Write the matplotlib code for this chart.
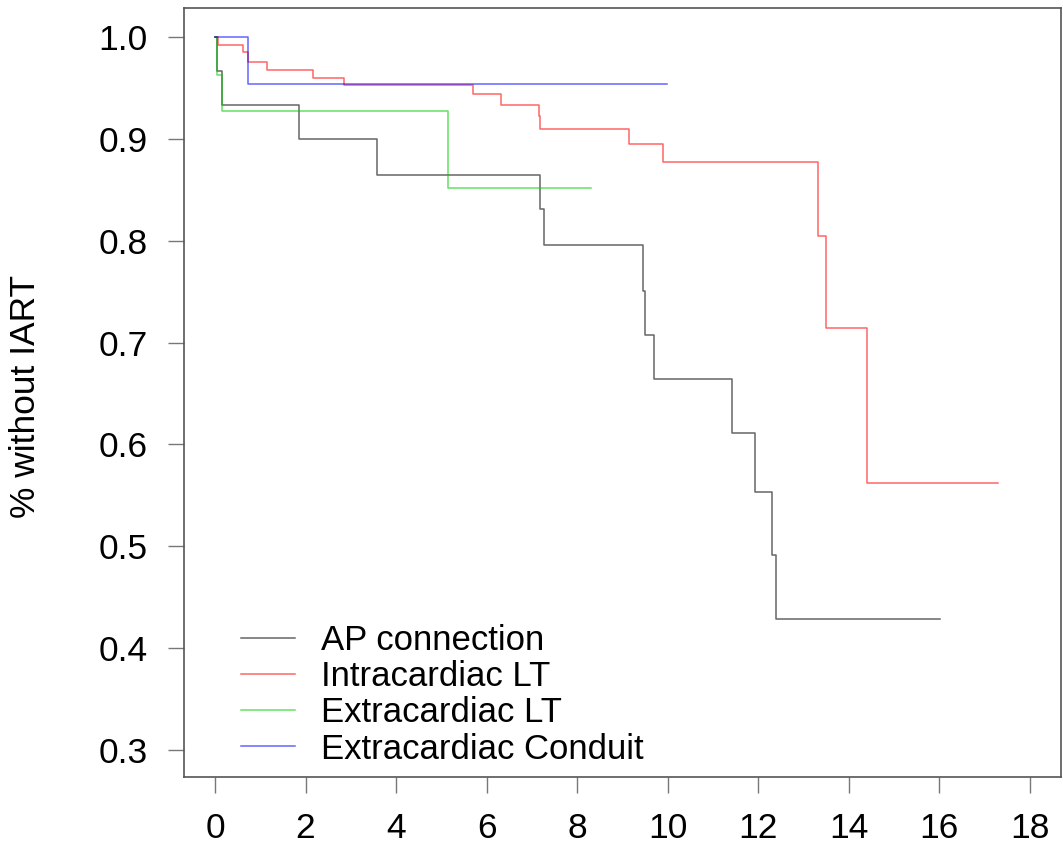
import numpy as np
import matplotlib
matplotlib.use("Agg")
import matplotlib.pyplot as plt

plt.rcParams['font.family'] = ['Liberation Sans', 'DejaVu Sans']

# Kaplan-Meier step curves (time in years, survival)
ap_t = [0, 0.04, 0.15, 1.85, 3.58, 7.18, 7.27, 9.45, 9.50, 9.69, 11.41, 11.93, 12.30, 12.40, 16.02]
ap_s = [1.0, 0.967, 0.933, 0.900, 0.865, 0.831, 0.796, 0.751, 0.707, 0.664, 0.611, 0.553, 0.491, 0.428, 0.428]

ilt_t = [0, 0.06, 0.61, 0.72, 1.155, 2.17, 2.85, 5.70, 6.32, 7.16, 7.18, 9.14, 9.90, 13.33, 13.49, 14.41, 17.29]
ilt_s = [1.0, 0.9925, 0.985, 0.976, 0.968, 0.960, 0.953, 0.944, 0.933, 0.923, 0.910, 0.895, 0.877, 0.805, 0.7145, 0.562, 0.562]

elt_t = [0, 0.04, 0.15, 5.15, 8.30]
elt_s = [1.0, 0.963, 0.927, 0.852, 0.852]

ecc_t = [0, 0.72, 9.98]
ecc_s = [1.0, 0.954, 0.954]

labels = ["AP connection", "Intracardiac LT", "Extracardiac LT", "Extracardiac Conduit"]
colors = ["#000000", "#FF0000", "#00CD00", "#0000FF"]

fig = plt.figure(figsize=(10.63, 8.49), dpi=100)
ax = fig.add_axes([0.1734, 0.0852, 0.8244, 0.905])

for t, s, lab, c in zip([ap_t, ilt_t, elt_t, ecc_t], [ap_s, ilt_s, elt_s, ecc_s], labels, colors):
    ax.step(t, s, where="post", color=c, alpha=0.6, lw=1.1, label=lab)

ax.set_xlim(-0.678, 18.68)
ax.set_ylim(0.2735, 1.0283)
ax.set_xticks(np.arange(0, 19, 2))
ax.set_yticks([0.3, 0.4, 0.5, 0.6, 0.7, 0.8, 0.9, 1.0])
ax.set_yticklabels(["0.3", "0.4", "0.5", "0.6", "0.7", "0.8", "0.9", "1.0"])
for sp in ax.spines.values():
    sp.set_color("#555555")
    sp.set_linewidth(1.2)
ax.tick_params(axis="both", length=11.5, width=1.0, color="#777777", labelsize=25.5)
ax.tick_params(axis="y", pad=15)
ax.tick_params(axis="x", pad=14)

ax.set_ylabel("% without IART", fontsize=25.5)
ax.yaxis.set_label_coords(-0.162, 0.495)

leg = ax.legend(loc="lower left", bbox_to_anchor=(0.065, 0.0145), frameon=False,
                fontsize=25, handlelength=1.55, handletextpad=0.75,
                labelspacing=0.094, borderpad=0, borderaxespad=0)

fig.savefig("out.png", dpi=100)
